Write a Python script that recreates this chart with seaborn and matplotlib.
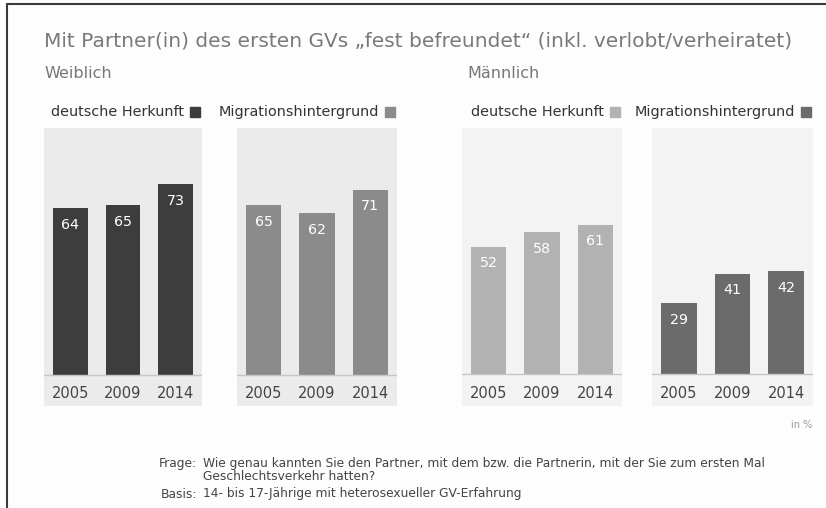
import pandas as pd
import matplotlib.pyplot as plt
import seaborn as sns
from matplotlib.patches import Rectangle
from matplotlib.lines import Line2D

# --- data (in %) ---
years = ['2005', '2009', '2014']
w_deutsch = [64, 65, 73]
w_migration = [65, 62, 71]
m_deutsch = [52, 58, 61]
m_migration = [29, 41, 42]

title = 'Mit Partner(in) des ersten GVs \u201efest befreundet\u201c (inkl. verlobt/verheiratet)'
group_labels = ['Weiblich', 'M\u00e4nnlich']
series_labels = ['deutsche Herkunft', 'Migrationshintergrund']

sns.set_theme(style='white')
plt.rcParams['font.family'] = ['DejaVu Sans']

W, H = 826, 508
fig = plt.figure(figsize=(W / 100, H / 100), dpi=100)
fig.patch.set_facecolor('#fdfdfd')


def px_axes(x0, x1, y0, y1):
    return fig.add_axes([x0 / W, 1 - y1 / H, (x1 - x0) / W, (y1 - y0) / H])


# panel layout: (x0, x1, baseline y, px per unit, bar colour, bg colour, values, legend label)
panels = [
    (44, 202, 375, 2.61, '#3d3d3d', '#ebebeb', w_deutsch, series_labels[0]),
    (237, 397, 375, 2.61, '#8b8b8b', '#ebebeb', w_migration, series_labels[1]),
    (462, 622, 374, 2.45, '#b2b2b2', '#f3f3f3', m_deutsch, series_labels[0]),
    (652, 813, 374, 2.45, '#6b6b6b', '#f3f3f3', m_migration, series_labels[1]),
]
top_px, bottom_px = 128, 406

for x0, x1, base, scale, col, bg, vals, lab in panels:
    ax = px_axes(x0, x1, top_px, bottom_px)
    df = pd.DataFrame({'Jahr': years, 'Wert': vals})
    sns.barplot(data=df, x='Jahr', y='Wert', color=col, saturation=1,
                width=0.66, linewidth=0, ax=ax)
    ax.set_facecolor(bg)
    ax.set_ylim(-(bottom_px - base) / scale, (base - top_px) / scale)
    ax.axhline(0, color='#c6c6c6', lw=1)
    for s in ax.spines.values():
        s.set_visible(False)
    ax.set_yticks([])
    ax.set_xlabel('')
    ax.set_ylabel('')
    ax.tick_params(axis='x', length=0, pad=-14.5, labelsize=10.5, labelcolor='#444444')
    ax.bar_label(ax.containers[0], padding=-17, color='white', fontsize=10.3)

    # legend label with square
    sq = 10
    fig.add_artist(Rectangle(((x1 - 2 - sq) / W, 1 - 117 / H), sq / W, sq / H,
                             transform=fig.transFigure, color=col))
    fig.text((x1 - 2 - sq - 6) / W, 1 - 112 / H, lab, ha='right', va='center',
             fontsize=10.4, color='#333333')

# titles
fig.text(44 / W, 1 - 41 / H, title, ha='left', va='center', fontsize=14.5, color='#7a7a7a')
fig.text(44 / W, 1 - 74 / H, group_labels[0], ha='left', va='center', fontsize=11.5, color='#777777')
fig.text(467 / W, 1 - 74 / H, group_labels[1], ha='left', va='center', fontsize=11.5, color='#777777')

# footer
fig.text(812 / W, 1 - 425 / H, 'in %', ha='right', va='center', fontsize=7, color='#999999')
fs = 8.8
fig.text(197 / W, 1 - 463 / H, 'Frage:', ha='right', va='center', fontsize=fs, color='#444444')
fig.text(203 / W, 1 - 463 / H, 'Wie genau kannten Sie den Partner, mit dem bzw. die Partnerin, mit der Sie zum ersten Mal',
         ha='left', va='center', fontsize=fs, color='#444444')
fig.text(203 / W, 1 - 477 / H, 'Geschlechtsverkehr hatten?', ha='left', va='center', fontsize=fs,
         color='#444444')
fig.text(197 / W, 1 - 494 / H, 'Basis:', ha='right', va='center', fontsize=fs, color='#444444')
fig.text(203 / W, 1 - 494 / H, '14- bis 17-J\u00e4hrige mit heterosexueller GV-Erfahrung', ha='left', va='center',
         fontsize=fs, color='#444444')

# frame lines
fig.add_artist(Line2D([7 / W, 1], [1 - 4 / H, 1 - 4 / H], transform=fig.transFigure, color='#3a3a3a', lw=1.5))
fig.add_artist(Line2D([7 / W, 7 / W], [1 - 4 / H, 0], transform=fig.transFigure, color='#3a3a3a', lw=1.5))

fig.savefig('out.png', dpi=100, facecolor=fig.get_facecolor())
